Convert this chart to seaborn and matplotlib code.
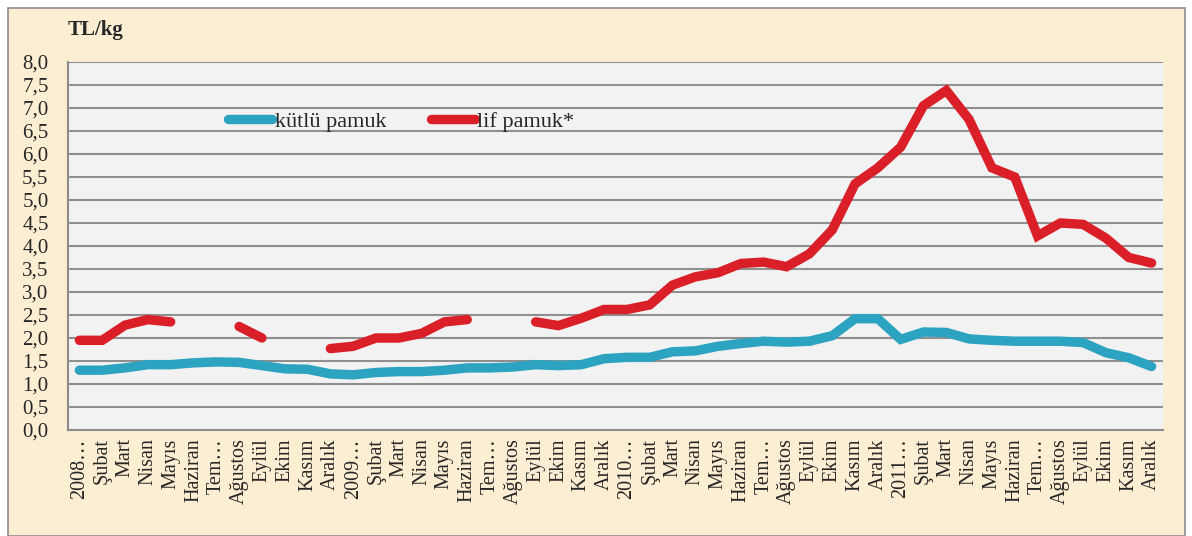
import numpy as np
import pandas as pd
import matplotlib
matplotlib.use("Agg")
import matplotlib.pyplot as plt
import seaborn as sns
from matplotlib.patches import Rectangle

# months 2008-2011
months = ["2008…", "Şubat", "Mart", "Nisan", "Mayıs", "Haziran", "Tem…", "Ağustos", "Eylül", "Ekim", "Kasım", "Aralık",
          "2009…", "Şubat", "Mart", "Nisan", "Mayıs", "Haziran", "Tem…", "Ağustos", "Eylül", "Ekim", "Kasım", "Aralık",
          "2010…", "Şubat", "Mart", "Nisan", "Mayıs", "Haziran", "Tem…", "Ağustos", "Eylül", "Ekim", "Kasım", "Aralık",
          "2011…", "Şubat", "Mart", "Nisan", "Mayıs", "Haziran", "Tem…", "Ağustos", "Eylül", "Ekim", "Kasım", "Aralık"]

kutlu = [1.30, 1.30, 1.35, 1.42, 1.42, 1.46, 1.48, 1.47, 1.40, 1.33, 1.32, 1.22,
         1.20, 1.25, 1.27, 1.27, 1.30, 1.35, 1.35, 1.37, 1.42, 1.40, 1.42, 1.55,
         1.58, 1.58, 1.70, 1.72, 1.82, 1.88, 1.93, 1.91, 1.93, 2.05, 2.42, 2.42,
         1.97, 2.13, 2.12, 1.98, 1.95, 1.93, 1.93, 1.93, 1.90, 1.68, 1.57, 1.38]

lif = [1.95, 1.95, 2.28, 2.40, 2.35, np.nan, np.nan, 2.25, 2.00, np.nan, np.nan, 1.77,
       1.82, 2.00, 2.00, 2.10, 2.35, 2.40, np.nan, np.nan, 2.35, 2.27, 2.43, 2.62,
       2.62, 2.72, 3.15, 3.33, 3.42, 3.62, 3.65, 3.55, 3.83, 4.35, 5.35, 5.70,
       6.15, 7.05, 7.38, 6.75, 5.70, 5.50, 4.22, 4.50, 4.47, 4.17, 3.75, 3.63]

series_names = ["kütlü pamuk", "lif pamuk*"]
colors = ["#2CA3C1", "#DA1F28"]

# long table, gaps in lif pamuk split into separate segments
rows = []
for name, vals in zip(series_names, [kutlu, lif]):
    seg = 0
    prev_nan = False
    for i, v in enumerate(vals):
        if np.isnan(v):
            prev_nan = True
            continue
        if prev_nan:
            seg += 1
            prev_nan = False
        rows.append({"idx": i, "value": v, "series": name, "seg": seg})
df = pd.DataFrame(rows)

sns.set_style("white")
plt.rcParams["font.family"] = "serif"
plt.rcParams["font.serif"] = ["Liberation Serif", "DejaVu Serif"]

fig = plt.figure(figsize=(11.92, 5.36), dpi=100)
fig.patch.set_facecolor("white")
fig.patches.append(Rectangle((8 / 1192, 0), 1177 / 1192, 528 / 536, transform=fig.transFigure,
                             facecolor="#FCEED3", edgecolor="#8C8C8C", linewidth=1.2, zorder=-10))

ax = fig.add_axes([68 / 1192, 1 - 430 / 536, 1095 / 1192, 368 / 536])
ax.set_facecolor("#F2F2F2")

sns.lineplot(data=df, x="idx", y="value", hue="series", units="seg", estimator=None,
             palette=colors, hue_order=series_names, linewidth=6.8, ax=ax, legend=False,
             solid_capstyle="round", solid_joinstyle="miter")

ax.set_xlim(-0.5, len(months) - 0.5)
ax.set_ylim(0, 8)
ax.set_yticks(np.arange(0, 8.01, 0.5))
ax.set_yticklabels([f"{v:.1f}".replace(".", ",") for v in np.arange(0, 8.01, 0.5)], fontsize=15)
ax.yaxis.grid(True, color="#8F8F8F", linewidth=1.5)
ax.set_axisbelow(True)

ax.set_xticks(range(len(months)))
ax.set_xticklabels(months, rotation=90, fontsize=14.5, va="top")
ax.set_xticks(np.arange(-0.5, len(months), 1), minor=True)
ax.tick_params(axis="x", which="major", length=0, pad=6)
ax.tick_params(axis="x", which="minor", length=5, width=1.2, color="#8C8C8C", direction="out")
ax.tick_params(axis="y", length=5, width=1.2, color="#8C8C8C", direction="out", pad=9)
ax.set_xlabel("")
ax.set_ylabel("")

for s in ["top", "right"]:
    ax.spines[s].set_visible(False)
for s in ["left", "bottom"]:
    ax.spines[s].set_color("#8C8C8C")
    ax.spines[s].set_linewidth(1.5)

handles = [plt.Line2D([], [], color=c, linewidth=6.8, solid_capstyle="round") for c in colors]
ax.legend(handles, series_names, loc="center left", bbox_to_anchor=(0.138, 0.837), ncol=2,
          frameon=False, fontsize=16, handlelength=2.0, handletextpad=0.1, columnspacing=2.0,
          borderaxespad=0)

fig.text(68 / 1192, 1 - 30 / 536, "TL/kg", fontsize=15, fontweight="bold", va="center", ha="left")

plt.savefig("out.png", dpi=100, facecolor=fig.get_facecolor())
